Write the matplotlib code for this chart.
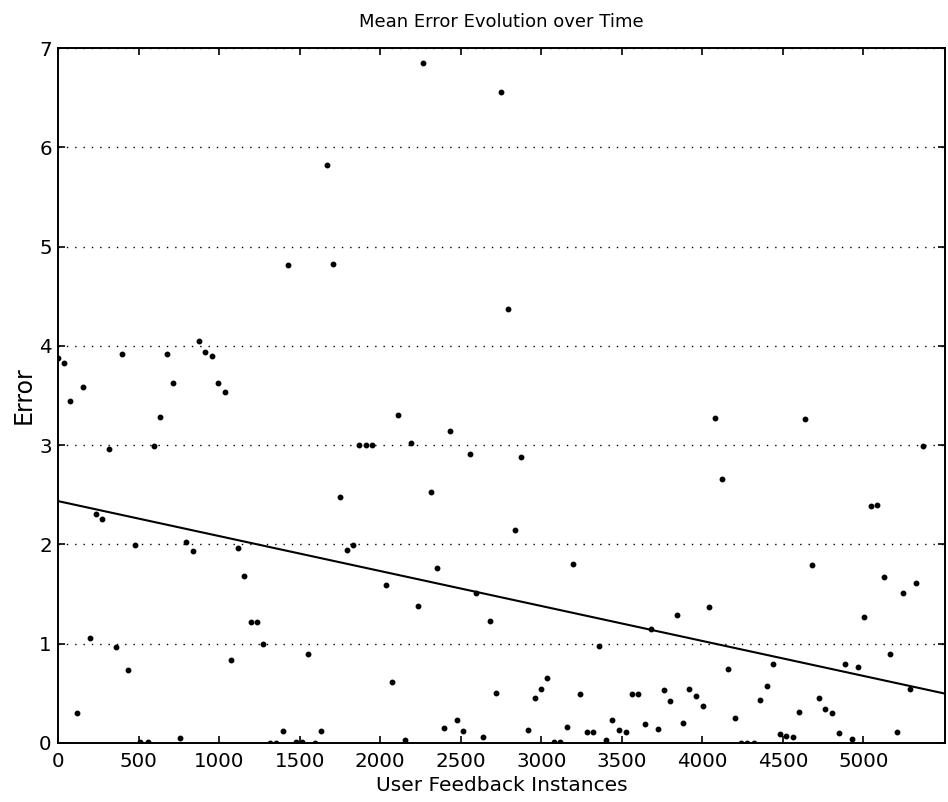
import matplotlib
matplotlib.use("Agg")
import matplotlib.pyplot as plt

plt.rcParams['font.family'] = ['DejaVu Sans']

# Data
instances = [0, 36, 76, 119, 154, 196, 237, 276, 316, 357, 396, 436, 479, 512, 558,
             597, 635, 674, 713, 757, 794, 836, 873, 914, 953, 995, 1034, 1076, 1115,
             1156, 1196, 1235, 1275, 1314, 1355, 1396, 1428, 1475, 1517, 1554, 1595,
             1635, 1670, 1709, 1750, 1794, 1831, 1871, 1910, 1951, 2034, 2073, 2111,
             2157, 2194, 2235, 2268, 2314, 2353, 2396, 2434, 2477, 2517, 2556, 2597,
             2639, 2680, 2719, 2753, 2796, 2837, 2877, 2920, 2960, 2999, 3038, 3080,
             3119, 3160, 3200, 3239, 3281, 3322, 3361, 3402, 3442, 3481, 3523, 3562,
             3601, 3641, 3680, 3722, 3761, 3800, 3840, 3881, 3920, 3962, 4001, 4040,
             4080, 4119, 4160, 4202, 4239, 4278, 4318, 4359, 4399, 4440, 4479, 4519,
             4560, 4601, 4639, 4678, 4722, 4763, 4804, 4846, 4885, 4927, 4966, 5005,
             5045, 5084, 5125, 5167, 5208, 5247, 5289, 5328, 5370]
errors = [3.88, 3.83, 3.44, 0.30, 3.58, 1.06, 2.31, 2.25, 2.96, 0.965, 3.92, 0.73, 1.99,
          0.01, 0.01, 2.99, 3.28, 3.92, 3.63, 0.05, 2.02, 1.93, 4.05, 3.94, 3.90, 3.63,
          3.53, 0.83, 1.96, 1.68, 1.22, 1.22, 1.00, 0.0, 0.0, 0.115, 4.81, 0.01, 0.01,
          0.89, 0.0, 0.115, 5.82, 4.82, 2.48, 1.94, 1.99, 3.00, 3.00, 3.00, 1.585, 0.617,
          3.30, 0.03, 3.02, 1.375, 6.85, 2.53, 1.76, 0.145, 3.145, 0.225, 0.12, 2.905,
          1.51, 0.06, 1.23, 0.50, 6.56, 4.37, 2.14, 2.875, 0.125, 0.45, 0.54, 0.655,
          0.01, 0.01, 0.16, 1.80, 0.49, 0.105, 0.105, 0.97, 0.03, 0.23, 0.13, 0.11,
          0.49, 0.49, 0.185, 1.15, 0.14, 0.53, 0.42, 1.29, 0.20, 0.545, 0.47, 0.37,
          1.365, 3.27, 2.66, 0.745, 0.25, 0.0, 0.0, 0.0, 0.435, 0.57, 0.79, 0.09, 0.065,
          0.06, 0.31, 3.26, 1.79, 0.45, 0.34, 0.30, 0.10, 0.79, 0.04, 0.76, 1.27, 2.39,
          2.40, 1.675, 0.89, 0.105, 1.51, 0.54, 1.61, 2.99]
trend_x = [0, 5506]
trend_y = [2.435, 0.495]
x_ticks = [0, 500, 1000, 1500, 2000, 2500, 3000, 3500, 4000, 4500, 5000]
y_ticks = [0, 1, 2, 3, 4, 5, 6, 7]

fig = plt.figure(figsize=(9.48, 8.02), dpi=100)
ax = fig.add_axes([0.0612, 0.0739, 0.9356, 0.8661])

ax.plot(instances, errors, linestyle='none', marker='o', markersize=3.2,
        color='black', zorder=3)
ax.plot(trend_x, trend_y, color='black', linewidth=1.5, zorder=3)

ax.set_xlim(0, 5506)
ax.set_ylim(0, 7)
ax.set_xticks(x_ticks)
ax.set_yticks(y_ticks)
ax.yaxis.grid(True, linestyle=(0, (1, 5)), color='black', linewidth=1.0)
ax.set_axisbelow(True)

ax.tick_params(direction='in', length=5, width=1.2, top=True, right=True,
               labelsize=14.3)
ax.tick_params(axis='x', pad=7)
ax.tick_params(axis='y', pad=4.5)
for s in ax.spines.values():
    s.set_linewidth(1.4)

ax.set_title('Mean Error Evolution over Time', fontsize=13, pad=15)
ax.set_xlabel('User Feedback Instances', fontsize=14.5, labelpad=3.5)
ax.set_ylabel('Error', fontsize=17, labelpad=2.5)

fig.savefig('out.png', dpi=100)
